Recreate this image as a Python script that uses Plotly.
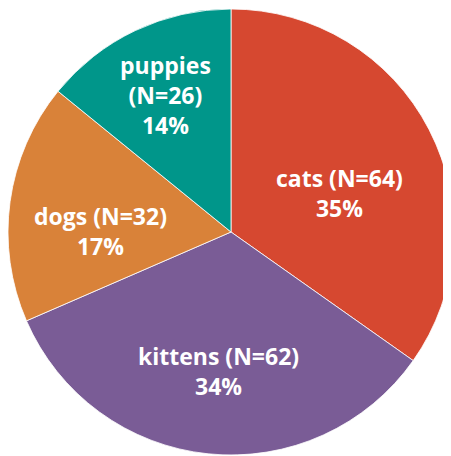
import math
import plotly.graph_objects as go

labels = ["cats", "kittens", "dogs", "puppies"]
counts = [64, 62, 32, 26]
colors = ["#D64830", "#7A5C96", "#D98239", "#00968A"]

W, H = 451, 456
# the page body adds an 8px offset, so the domain is pulled up/left
dom_x = [0.0, 446 / W]
dom_y = [1 - 448 / H, 1.0]

# where each label sits along its slice bisector (fraction of radius)
label_r = [0.55, 0.55, 0.59, 0.68]
label_dy = [17, 17, 17, 0]  # px nudge downwards

total = sum(counts)
texts = []
for name, n in zip(labels, counts):
    pct = round(100 * n / total)
    if name == "puppies":
        texts.append(f"{name}<br>(N={n})<br>{pct}%")
    else:
        texts.append(f"{name} (N={n})<br>{pct}%")

fig = go.Figure(go.Pie(
    labels=labels,
    values=counts,
    textinfo="none",
    sort=False,
    direction="clockwise",
    rotation=0,
    marker=dict(colors=colors, line=dict(color="white", width=0.8)),
    domain=dict(x=dom_x, y=dom_y),
    hoverinfo="skip",
))

# pie geometry in pixels
w_px = (dom_x[1] - dom_x[0]) * W
h_px = (dom_y[1] - dom_y[0]) * H
radius = min(w_px, h_px) / 2
cx = dom_x[0] * W + w_px / 2
cy = (1 - dom_y[1]) * H + h_px / 2

start = 0.0
for txt, n, rf, dy in zip(texts, counts, label_r, label_dy):
    span = 360 * n / total
    mid = math.radians(start + span / 2)
    start += span
    px = cx + rf * radius * math.sin(mid)
    py = cy - rf * radius * math.cos(mid) + dy
    fig.add_annotation(
        x=px / W, y=1 - py / H, xref="paper", yref="paper",
        text=txt, showarrow=False, align="center",
        xanchor="center", yanchor="middle",
        font=dict(family="Open Sans", size=23, color="white", weight="bold"),
    )

fig.update_layout(
    width=W,
    height=H,
    margin=dict(l=0, r=0, t=0, b=0),
    showlegend=False,
    paper_bgcolor="white",
)

fig.write_html("out.html")
